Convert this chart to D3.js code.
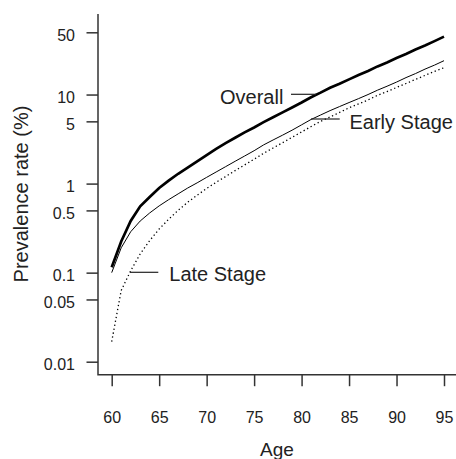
<!DOCTYPE html>
<html>
<head>
<meta charset="utf-8">
<script src="https://cdn.jsdelivr.net/npm/d3@7"></script>
<style>
  body { margin: 0; background: #fff; }
  svg { display: block; font-family: "Liberation Sans", Arial, Helvetica, sans-serif; }
</style>
</head>
<body>
<svg width="456" height="459"></svg>
<script>
// Prevalence by age, log scale
const ages = d3.range(60, 96);
const overall = [0.115, 0.224, 0.38, 0.556, 0.708, 0.891, 1.08, 1.29, 1.51, 1.78,
  2.09, 2.45, 2.85, 3.27, 3.76, 4.27, 4.9, 5.56, 6.3, 7.16,
  8.13, 9.33, 10.5, 11.9, 13.2, 14.8, 16.6, 18.4, 20.7, 22.9,
  25.7, 28.5, 32, 35.5, 39.8, 44.7];
const early = [0.1, 0.19, 0.288, 0.38, 0.468, 0.562, 0.66, 0.767, 0.891, 1.02,
  1.175, 1.35, 1.55, 1.78, 2.04, 2.34, 2.72, 3.09, 3.5, 3.98,
  4.57, 5.25, 5.89, 6.6, 7.33, 8.13, 9.0, 10, 11.2, 12.4,
  13.8, 15.5, 17.2, 19.3, 21.4, 24];
const late = [0.0168, 0.063, 0.105, 0.162, 0.229, 0.309, 0.398, 0.501, 0.617, 0.741,
  0.881, 1.035, 1.2, 1.4, 1.62, 1.88, 2.19, 2.51, 2.88, 3.31,
  3.8, 4.37, 5.0, 5.6, 6.3, 7.1, 7.85, 8.7, 9.8, 10.8,
  12, 13.3, 14.8, 16.4, 18.2, 20];
const xTicks = [60, 65, 70, 75, 80, 85, 90, 95];
const yTicks = [0.01, 0.05, 0.1, 0.5, 1, 5, 10, 50];
const yTickLabels = ["0.01", "0.05", "0.1", "0.5", "1", "5", "10", "50"];

const svg = d3.select("svg");
const axisColor = "#333";
const textColor = "#222";

const x = d3.scaleLinear().domain([60, 95]).range([111.7, 444]);
const y = d3.scaleLog().domain([0.01, 50]).range([361.7, 32.3]);

const axLeft = 98, axTop = 14, axBottom = 374.7, axRight = 456;

// axis lines (L shape)
svg.append("path")
    .attr("d", `M${axLeft},${axTop}V${axBottom}H${axRight}`)
    .attr("fill", "none")
    .attr("stroke", axisColor)
    .attr("stroke-width", 1.5);

const xAxis = svg.append("g")
    .attr("transform", `translate(0,${axBottom})`)
    .call(d3.axisBottom(x).tickValues(xTicks).tickSize(11.5).tickPadding(0));
xAxis.select(".domain").remove();
xAxis.selectAll("line").attr("stroke", axisColor).attr("stroke-width", 1.5);
xAxis.selectAll("text")
    .attr("y", 48.3).attr("dy", null)
    .attr("fill", textColor)
    .style("font-size", "16px")
    .style("font-family", "'Liberation Sans', Arial, sans-serif");

const yAxis = svg.append("g")
    .attr("transform", `translate(${axLeft},0)`)
    .call(d3.axisLeft(y).tickValues(yTicks)
        .tickFormat((d, i) => yTickLabels[i])
        .tickSize(11.5).tickPadding(0));
yAxis.select(".domain").remove();
yAxis.selectAll("line").attr("stroke", axisColor).attr("stroke-width", 1.5);
yAxis.selectAll("text")
    .attr("x", -23).attr("dy", null).attr("y", 8)
    .attr("fill", textColor)
    .style("font-size", "16px")
    .style("font-family", "'Liberation Sans', Arial, sans-serif");

// axis titles
svg.append("text")
    .attr("x", (axLeft + axRight) / 2).attr("y", 456)
    .attr("text-anchor", "middle")
    .attr("fill", textColor)
    .style("font-size", "19px")
    .text("Age");

svg.append("text")
    .attr("transform", `translate(28,194) rotate(-90)`)
    .attr("text-anchor", "middle")
    .attr("fill", textColor)
    .style("font-size", "20px")
    .text("Prevalence rate (%)");

// series
const line = d3.line().x(d => x(d[0])).y(d => y(d[1]));
const series = [
    {name: "Overall", values: overall, width: 2.7, dash: null},
    {name: "Early Stage", values: early, width: 1, dash: null},
    {name: "Late Stage", values: late, width: 1.3, dash: "1.3,2.7"}
];

svg.append("g").selectAll("path")
    .data(series)
    .join("path")
    .attr("d", s => line(ages.map((a, i) => [a, s.values[i]])))
    .attr("fill", "none")
    .attr("stroke", "#000")
    .attr("stroke-width", s => s.width)
    .attr("stroke-dasharray", s => s.dash);

// labels with leader lines
const labels = [
    {text: "Overall", tx: 220, ty: 104, x1: 291, x2: 316, ly: 94.3},
    {text: "Early Stage", tx: 349.5, ty: 128.5, x1: 311, x2: 339.7, ly: 119},
    {text: "Late Stage", tx: 169.3, ty: 281, x1: 130, x2: 158.3, ly: 272.3}
];

const lab = svg.append("g").selectAll("g").data(labels).join("g");
lab.append("line")
    .attr("x1", d => d.x1).attr("x2", d => d.x2)
    .attr("y1", d => d.ly).attr("y2", d => d.ly)
    .attr("stroke", "#222").attr("stroke-width", 1.2);
lab.append("text")
    .attr("x", d => d.tx).attr("y", d => d.ty)
    .attr("fill", textColor)
    .style("font-size", "20px")
    .text(d => d.text);
</script>
</body>
</html>
